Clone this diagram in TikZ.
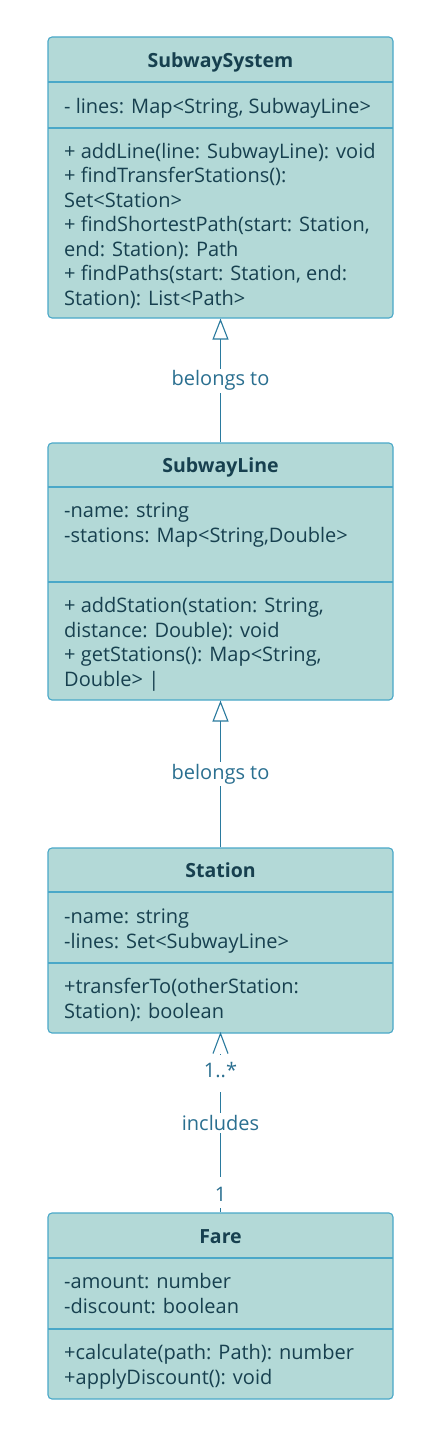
\documentclass[tikz,border=0pt]{standalone}
\usepackage{fontspec}
\setmainfont{Open Sans}
\usetikzlibrary{arrows.meta}
\definecolor{boxfill}{HTML}{B3D9D7}
\definecolor{boxdraw}{HTML}{4AA8C8}
\definecolor{edgec}{HTML}{2A7A9E}
\definecolor{txt}{HTML}{17404F}
\definecolor{lbl}{HTML}{2A6F90}
\tikzset{
  cls/.style={draw=boxdraw, fill=boxfill, rounded corners=4pt, minimum width=345pt, inner sep=0pt, line width=1.1pt},
  divider/.style={draw=boxdraw, line width=1.1pt},
  title/.style={anchor=base, font=\fontsize{19.5}{22}\selectfont\bfseries, text=txt, inner sep=0pt},
  member/.style={anchor=base west, font=\fontsize{20}{23}\selectfont, text=txt, inner sep=0pt},
  conn/.style={draw=edgec, line width=1.1pt},
  elabel/.style={fill=white, text=lbl, font=\fontsize{20}{23}\selectfont, inner sep=2pt},
}
\begin{document}
\begin{tikzpicture}[x=1pt,y=-1pt]
\useasboundingbox (0,0) rectangle (441,1437);
\fill[white] (0,0) rectangle (441,1437);

% SubwaySystem
\node[cls, minimum height=281pt] (sys) at (220.5,177.5) {};
\draw[divider] (48,82) -- (393,82);
\draw[divider] (48,128) -- (393,128);
\node[title] (sysT) at (220.5,67.5) {SubwaySystem};
\node[member] (sysA1) at (64,113.5) {- lines: Map<String, SubwayLine>};
\node[member] (sysM1) at (64,158) {+ addLine(line: SubwayLine): void};
\node[member] (sysM2) at (64,182.5) {+ findTransferStations():};
\node[member] (sysM3) at (64,207) {Set<Station>};
\node[member] (sysM4) at (64,231.5) {+ findShortestPath(start: Station,};
\node[member] (sysM5) at (64,256) {end: Station): Path};
\node[member] (sysM6) at (64,280.5) {+ findPaths(start: Station, end:};
\node[member] (sysM7) at (64,305) {Station): List<Path>};

% SubwayLine
\node[cls, minimum height=257pt] (line) at (220.5,571.5) {};
\draw[divider] (48,487) -- (393,487);
\draw[divider] (48,582) -- (393,582);
\node[title] (lineT) at (220.5,472.5) {SubwayLine};
\node[member] (lineA1) at (64,517.5) {-name: string};
\node[member] (lineA2) at (64,542) {-stations: Map<String,Double>};
\node[member] (lineM1) at (64,612.5) {+ addStation(station: String,};
\node[member] (lineM2) at (64,637) {distance: Double): void};
\node[member] (lineM3) at (64,661.5) {+ getStations(): Map<String,};
\node[member] (lineM4) at (64,686) {Double> |};

% Station
\node[cls, minimum height=185pt] (station) at (220.5,940.5) {};
\draw[divider] (48,892) -- (393,892);
\draw[divider] (48,963) -- (393,963);
\node[title] (stationT) at (220.5,877.5) {Station};
\node[member] (stationA1) at (64,923.5) {-name: string};
\node[member] (stationA2) at (64,948) {-lines: Set<SubwayLine>};
\node[member] (stationM1) at (64,993.5) {+transferTo(otherStation:};
\node[member] (stationM2) at (64,1018) {Station): boolean};

% Fare
\node[cls, minimum height=186pt] (fare) at (220.5,1306) {};
\draw[divider] (48,1258) -- (393,1258);
\draw[divider] (48,1329) -- (393,1329);
\node[title] (fareT) at (220.5,1243.5) {Fare};
\node[member] (fareA1) at (64,1288.5) {-amount: number};
\node[member] (fareA2) at (64,1313) {-discount: boolean};
\node[member] (fareM1) at (64,1359.5) {+calculate(path: Path): number};
\node[member] (fareM2) at (64,1384) {+applyDiscount(): void};

% connectors
\draw[conn, -{Triangle[open, length=21pt, width=16pt]}] (line.north) -- node[elabel] {belongs to} (sys.south);
\draw[conn, -{Triangle[open, length=21pt, width=16pt]}] (station.north) -- node[elabel] {belongs to} (line.south);
\draw[conn, shorten >=20pt] (fare.north) --
  node[elabel, pos=0.114, text height=23pt, text depth=4pt] {1}
  node[elabel] {includes}
  node[elabel, pos=0.775, text height=20pt, text depth=13pt] {1..*} (station.south);
\draw[conn] ([xshift=-7.5pt, yshift=-20pt]station.south) -- (station.south) -- ([xshift=7.5pt, yshift=-20pt]station.south);
\end{tikzpicture}
\end{document}
